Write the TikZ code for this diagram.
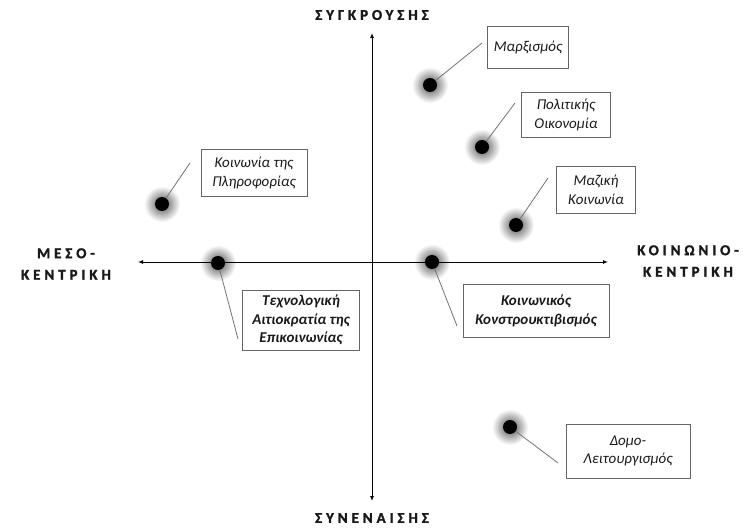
\documentclass[tikz,border=0pt]{standalone}
\usepackage{fontspec}
\setmainfont{Carlito}
\newfontfamily\axisfont[LetterSpace=26, FakeBold=1.6]{Carlito Bold}
\usetikzlibrary{arrows.meta, positioning}

\begin{document}
\begin{tikzpicture}[
  x=1pt, y=-1pt,
  font=\itshape\fontsize{15}{18.5}\selectfont,
  dot/.style={circle, fill=black, minimum size=14pt, inner sep=0pt},
  tag/.style={draw=black!60, line width=0.8pt, align=center, inner sep=4pt, text=black!90},
  boldtag/.style={tag, font=\bfseries\itshape\fontsize{15}{18.5}\selectfont},
  pointer/.style={draw=black!55, line width=0.8pt},
  axis/.style={{Latex[length=5pt,width=4pt]}-{Latex[length=5pt,width=4pt]}, line width=0.9pt},
  axislabel/.style={font=\axisfont\fontsize{15}{21.5}\selectfont, align=center, text=black!90}
]
  \useasboundingbox (0,0) rectangle (747,529);

  % glow under the dots
  \foreach \x/\y in {430/85, 482/147, 516/225, 162/204, 218/263, 432/262, 510/427} {
    \shade[inner color=black!70, outer color=white] (\x,\y) circle (18);
  }

  % axes
  \coordinate (top) at (372,33);
  \coordinate (bot) at (372,501);
  \coordinate (lft) at (138,262);
  \coordinate (rgt) at (608,262);
  \draw[axis] (bot) -- (top);
  \draw[axis] (lft) -- (rgt);

  \node[axislabel] (sygk) at (372,15) {ΣΥΓΚΡΟΥΣΗΣ};
  \node[axislabel] (syne) at (372,518) {ΣΥΝΕΝΑΙΣΗΣ};
  \node[axislabel] (meso) at (66,264) {ΜΕΣΟ-\\ΚΕΝΤΡΙΚΗ};
  \node[axislabel] (koin) at (688,261) {ΚΟΙΝΩΝΙΟ-\\ΚΕΝΤΡΙΚΗ};

  % dots
  \foreach \n/\x/\y in {marx/430/85, polit/482/147, mazik/516/225, plir/162/204,
                        tech/218/263, kon/432/262, domo/510/427} {
    \node[dot] (\n) at (\x,\y) {};
  }

  % boxes
  \node[tag, minimum width=81pt, minimum height=42pt] (marxbox) at (528,47) {Μαρξισμός};
  \node[tag, minimum width=89pt, minimum height=45pt] (politbox) at (566,115) {Πολιτικής\\Οικονομία};
  \node[tag, minimum width=79pt, minimum height=47pt] (mazikbox) at (596,190) {Μαζική\\Κοινωνία};
  \node[tag, minimum width=106pt, minimum height=47pt] (plirbox) at (254,173) {Κοινωνία της\\Πληροφορίας};
  \node[boldtag, minimum width=117pt, minimum height=60pt] (techbox) at (301,320) {Τεχνολογική\\Αιτιοκρατία της\\Επικοινωνίας};
  \node[boldtag, minimum width=146pt, minimum height=53pt] (konbox) at (536,311) {Κοινωνικός\\Κονστρουκτιβισμός};
  \node[tag, minimum width=124pt, minimum height=54pt] (domobox) at (628,451) {Δομο-\\Λειτουργισμός};

  % pointers
  \foreach \n/\x/\y in {marx/482/43, polit/515/103, mazik/548/178, plir/190/163,
                        tech/238/339, kon/457/326, domo/558/463} {
    \coordinate (\n end) at (\x,\y);
    \draw[pointer] (\n) -- (\n end);
  }
\end{tikzpicture}
\end{document}
